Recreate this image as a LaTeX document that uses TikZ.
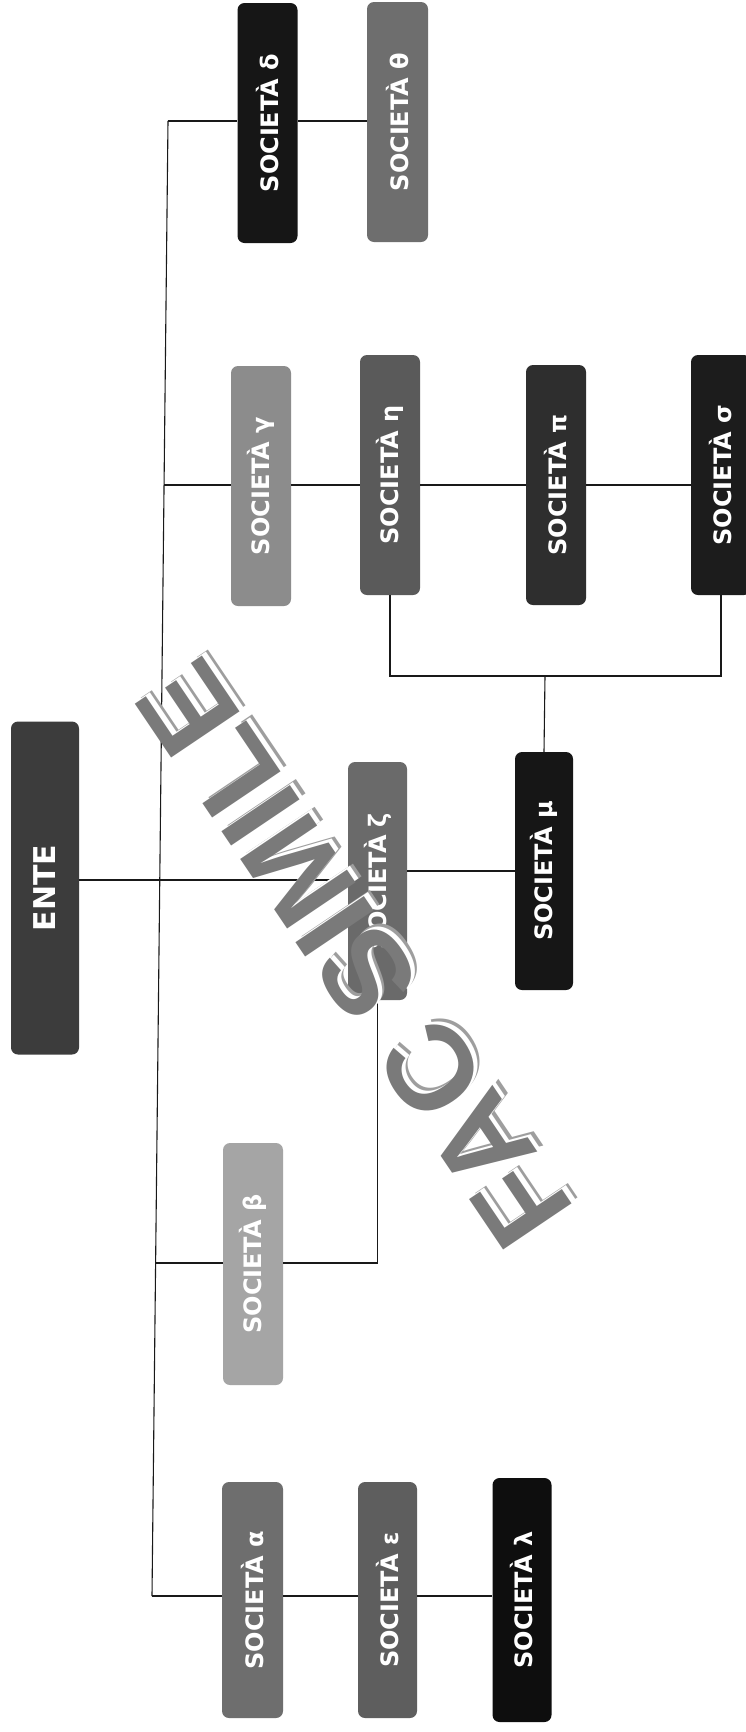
\documentclass[tikz,border=0pt]{standalone}
\usepackage{fontspec}
\setmainfont{DejaVu Sans}
\newfontfamily\wmfont{Liberation Sans}
\usetikzlibrary{calc}
\definecolor{cEnte}{HTML}{3C3C3C}
\definecolor{cDelta}{HTML}{161616}
\definecolor{cTheta}{HTML}{6E6E6E}
\definecolor{cGamma}{HTML}{8C8C8C}
\definecolor{cEta}{HTML}{5A5A5A}
\definecolor{cPi}{HTML}{2E2E2E}
\definecolor{cSigma}{HTML}{1C1C1C}
\definecolor{cZeta}{HTML}{6A6A6A}
\definecolor{cMu}{HTML}{161616}
\definecolor{cBeta}{HTML}{A5A5A5}
\definecolor{cAlpha}{HTML}{6E6E6E}
\definecolor{cEps}{HTML}{5E5E5E}
\definecolor{cLambda}{HTML}{0E0E0E}
\begin{document}
\begin{tikzpicture}[x=1pt,y=-1pt,
  box/.style={fill=#1, rounded corners=7pt, inner sep=0pt,
    minimum width=60pt, minimum height=240pt, text=white,
    font=\bfseries\fontsize{24}{24}\selectfont},
  conn/.style={line width=1.1pt, draw=black!90},
  wmtext/.style={rotate=124, inner sep=0pt,
    font=\wmfont\bfseries\fontsize{120}{120}\selectfont}]
\useasboundingbox (0,0) rectangle (746,1732);
\fill[white] (0,0) rectangle (746,1732);

% boxes
\node[box=cEnte, minimum width=68pt, minimum height=333pt,
  font=\bfseries\fontsize{30}{30}\selectfont] (ente) at (45,888) {\rotatebox{90}{ENTE}};
\node[box=cDelta] (delta) at (267.5,123) {\rotatebox{90}{SOCIETÀ δ}};
\node[box=cTheta, minimum width=61pt] (theta) at (397.5,122) {\rotatebox{90}{SOCIETÀ θ}};
\node[box=cGamma] (gamma) at (261,486) {\rotatebox{90}{SOCIETÀ γ}};
\node[box=cEta] (eta) at (390,475) {\rotatebox{90}{SOCIETÀ η}};
\node[box=cPi] (pi) at (556,485) {\rotatebox{90}{SOCIETÀ π}};
\node[box=cSigma] (sigma) at (721,475) {\rotatebox{90}{SOCIETÀ σ}};
\node[box=cZeta, minimum width=59pt, minimum height=238pt] (zeta) at (377.5,881) {\rotatebox{90}{SOCIETÀ ζ}};
\node[box=cMu, minimum width=58pt, minimum height=238pt] (mu) at (544,871) {\rotatebox{90}{SOCIETÀ μ}};
\node[box=cBeta, minimum height=242pt] (beta) at (253,1264) {\rotatebox{90}{SOCIETÀ β}};
\node[box=cAlpha, minimum width=61pt, minimum height=236pt] (alpha) at (252.5,1600) {\rotatebox{90}{SOCIETÀ α}};
\node[box=cEps, minimum width=59pt, minimum height=236pt] (eps) at (387.5,1600) {\rotatebox{90}{SOCIETÀ ε}};
\node[box=cLambda, minimum width=59pt, minimum height=244pt] (lambda) at (522,1600) {\rotatebox{90}{SOCIETÀ λ}};

% trunk coordinates
\coordinate (t1) at (168,121);
\coordinate (t2) at (164,485);
\coordinate (t3) at (160,880);
\coordinate (t4) at (156,1263);
\coordinate (t5) at (152,1596);
\coordinate (j) at (545,676);

% connectors
\draw[conn] (t1) -- (t5);
\draw[conn] (t1) -- (delta.west |- t1);
\draw[conn] (delta.east |- t1) -- (theta.west |- t1);
\draw[conn] (t2) -- (gamma.west |- t2);
\draw[conn] (gamma.east |- t2) -- (eta.west |- t2);
\draw[conn] (eta.east |- t2) -- (pi.west |- t2);
\draw[conn] (pi.east |- t2) -- (sigma.west |- t2);
\draw[conn] (ente.east |- t3) -- (zeta.west |- t3);
\draw[conn] (zeta.east |- mu) -- (mu.west);
\draw[conn] (mu.north) -- (j);
\draw[conn] (eta.south) -- (eta.south |- j) -- (sigma.south |- j) -- (sigma.south);
\draw[conn] (t4) -- (beta.west |- t4);
\draw[conn] (beta.east |- t4) -- (zeta.south |- t4) -- (zeta.south);
\draw[conn] (t5) -- (alpha.west |- t5);
\draw[conn] (alpha.east |- t5) -- (eps.west |- t5);
\draw[conn] (eps.east |- t5) -- (lambda.west |- t5);

% watermark
\coordinate (wmc) at (354,954);
\node[wmtext, text=black!38] (wm1) at ($(wmc)+(6,-6)$) {FAC SIMILE};
\node[wmtext, text=white] (wm2) at ($(wmc)+(3.5,-3.5)$) {FAC SIMILE};
\node[wmtext, text=black!52] (wm3) at (wmc) {FAC SIMILE};
\end{tikzpicture}
\end{document}
